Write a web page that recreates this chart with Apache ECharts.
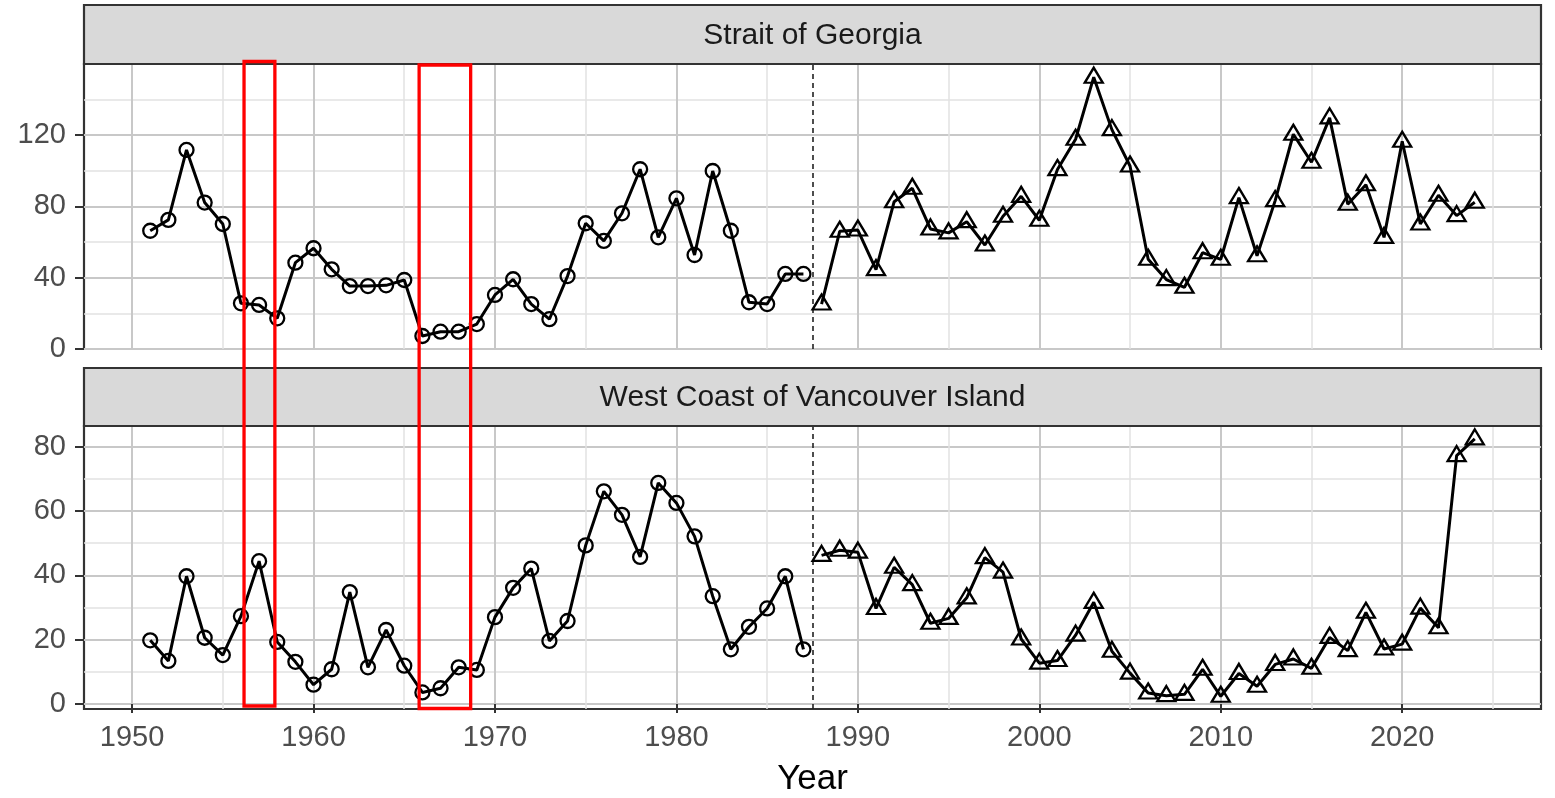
<!DOCTYPE html>
<html><head><meta charset="utf-8">
<script src="https://cdn.jsdelivr.net/npm/echarts@6/dist/echarts.min.js"></script>
<style>html,body{margin:0;padding:0;background:#fff}#c{width:1555px;height:798px}</style>
</head><body><div id="c"></div>
<script>
const yearsEarly = [1951,1952,1953,1954,1955,1956,1957,1958,1959,1960,1961,1962,1963,1964,1965,1966,1967,1968,1969,1970,1971,1972,1973,1974,1975,1976,1977,1978,1979,1980,1981,1982,1983,1984,1985,1986,1987];
const yearsLate = [1988,1989,1990,1991,1992,1993,1994,1995,1996,1997,1998,1999,2000,2001,2002,2003,2004,2005,2006,2007,2008,2009,2010,2011,2012,2013,2014,2015,2016,2017,2018,2019,2020,2021,2022,2023,2024];
const sogEarly = [66.3,72.4,111.6,82.1,70.1,25.6,24.7,17.2,48.4,56.5,44.7,35.3,35.3,35.7,38.7,7.3,9.7,9.7,14.0,30.3,39.1,25.2,16.7,40.9,70.5,60.6,76.1,100.8,62.6,84.5,52.7,99.8,66.3,26.2,25.2,42.1,42.1];
const sogLate = [25.2,66.0,66.7,44.5,82.6,90.1,67.3,65.1,71.4,58.3,74.4,85.6,72.2,100.6,117.6,152.4,123.0,102.6,50.3,38.9,34.6,54.0,50.3,84.9,52.3,83.2,120.4,104.7,129.6,81.2,92.1,62.6,116.5,70.1,86.2,74.8,82.3];
const wcviEarly = [19.8,13.4,39.7,20.6,15.2,27.3,44.4,19.3,13.1,6.0,10.8,34.8,11.4,23.0,11.9,3.6,4.9,11.4,10.6,27.0,36.1,42.1,19.6,25.8,49.3,66.1,58.8,45.7,68.7,62.5,52.1,33.5,17.0,24.0,29.7,39.7,17.0];
const wcviLate = [46.2,47.8,47.2,29.7,42.5,37.1,25.1,26.6,33.0,45.5,41.0,20.2,12.7,13.5,21.4,31.6,16.4,9.6,3.4,2.6,3.0,10.8,2.4,9.5,5.5,12.3,14.0,11.1,20.7,16.6,28.5,17.1,18.6,29.8,23.7,77.2,82.4];
const panelTitles = ['Strait of Georgia', 'West Coast of Vancouver Island'];
const xMajorTicks = [1950,1960,1970,1980,1990,2000,2010,2020];
const xMinorTicks = [1955,1965,1975,1985,1995,2005,2015,2025];
const sogMajorTicks = [0,40,80,120];
const sogMinorTicks = [20,60,100,140];
const wcviMajorTicks = [0,20,40,60,80];
const wcviMinorTicks = [10,30,50,70];
const periodBreak = 1987.5;
const highlightRanges = [[1956.17,1957.87],[1965.82,1968.66]];
const xTitle = 'Year';

const FONT = 'Liberation Sans, Arial, sans-serif';
const L = 84, W = 1457;
const grids = [{top:64, height:285}, {top:426, height:284}];
const strips = [{y:5, h:59}, {y:368, h:58}];
const X_MIN = 1947.35, X_MAX = 2027.65;
const yRanges = [[0,159.8],[-1.55,86.4]];
const boxV = [[61.5,706],[65,708.5]];

const pairs = (xs, ys) => xs.map((x,i)=>[x, ys[i]]);
const MAJOR = {color:'#C8C8C8', width:2};
const MINOR = {color:'#E2E2E2', width:1.5};
const tickStyle = {color:'#333', width:2};
const labelStyle = {color:'#4D4D4D', fontSize:29, fontFamily:FONT};
const plain = v => String(v);

function xAxisPair(gi, withLabels){
  return [
    {type:'value', gridIndex:gi, min:X_MIN, max:X_MAX,
     axisLine:{show:false},
     axisTick:{show:withLabels, length:9, lineStyle:tickStyle, customValues:xMajorTicks},
     axisLabel:{show:withLabels, margin:14, customValues:xMajorTicks, formatter:plain, ...labelStyle},
     splitLine:{show:true, lineStyle:MAJOR},
     name: withLabels ? xTitle : '', nameLocation:'middle', nameGap:53,
     nameTextStyle:{fontSize:35, color:'#000', fontFamily:FONT}},
    {type:'value', gridIndex:gi, min:X_MIN, max:X_MAX,
     axisLine:{show:false}, axisTick:{show:false, customValues:xMinorTicks},
     axisLabel:{show:false, customValues:xMinorTicks},
     splitLine:{show:true, lineStyle:MINOR}}
  ];
}
function yAxisPair(gi, major, minor){
  return [
    {type:'value', gridIndex:gi, min:yRanges[gi][0], max:yRanges[gi][1],
     axisLine:{show:false},
     axisTick:{show:true, length:9, lineStyle:tickStyle, customValues:major},
     axisLabel:{show:true, margin:18, customValues:major, formatter:plain, ...labelStyle},
     splitLine:{show:true, lineStyle:MAJOR}},
    {type:'value', gridIndex:gi, min:yRanges[gi][0], max:yRanges[gi][1],
     axisLine:{show:false}, axisTick:{show:false, customValues:minor},
     axisLabel:{show:false, customValues:minor},
     splitLine:{show:true, lineStyle:MINOR}}
  ];
}

function circleSeries(xi, yi, data){
  return {type:'line', xAxisIndex:xi, yAxisIndex:yi, data, symbol:'circle', symbolSize:14,
    itemStyle:{color:'rgba(0,0,0,0)', borderColor:'#000', borderWidth:2.3},
    lineStyle:{color:'#000', width:3}, emphasis:{disabled:true}, silent:true, z:5,
    markLine:{silent:true, symbol:['none','none'], label:{show:false},
      lineStyle:{type:[5,4], color:'#222', width:1.6}, data:[{xAxis:periodBreak}]}};
}
function triSeries(xi, yi, data){
  return {type:'line', xAxisIndex:xi, yAxisIndex:yi, data, symbol:'triangle', symbolSize:[18,15],
    symbolOffset:[0,-2],
    itemStyle:{color:'rgba(0,0,0,0)', borderColor:'#000', borderWidth:2.3},
    lineStyle:{color:'#000', width:3}, emphasis:{disabled:true}, silent:true, z:5};
}

const chart = echarts.init(document.getElementById('c'), null, {renderer:'canvas'});
chart.setOption({
  animation:false,
  backgroundColor:'#fff',
  textStyle:{fontFamily:FONT},
  grid: grids.map(g=>({left:L, width:W, top:g.top, height:g.height, show:true,
    borderColor:'#333', borderWidth:2.2, backgroundColor:'#fff', containLabel:false})),
  xAxis: [...xAxisPair(0,false), ...xAxisPair(1,true)],
  yAxis: [...yAxisPair(0,sogMajorTicks,sogMinorTicks), ...yAxisPair(1,wcviMajorTicks,wcviMinorTicks)],
  series: [
    circleSeries(0,0,pairs(yearsEarly,sogEarly)),
    triSeries(0,0,pairs(yearsLate,sogLate)),
    circleSeries(2,2,pairs(yearsEarly,wcviEarly)),
    triSeries(2,2,pairs(yearsLate,wcviLate))
  ]
});

const gfx = [];
strips.forEach((s,i)=>{
  gfx.push({type:'rect', shape:{x:L, y:s.y, width:W, height:s.h},
    style:{fill:'#D9D9D9', stroke:'#333', lineWidth:2.2}, z:50});
  gfx.push({type:'text', x:L+W/2, y:s.y+s.h/2+1,
    style:{text:panelTitles[i], fill:'#1A1A1A', font:'30px '+FONT, textAlign:'center', textVerticalAlign:'middle'}, z:51});
});
highlightRanges.forEach(([a,b],i)=>{
  const x0 = chart.convertToPixel({xAxisIndex:2}, a);
  const x1 = chart.convertToPixel({xAxisIndex:2}, b);
  gfx.push({type:'rect', shape:{x:x0, y:boxV[i][0], width:x1-x0, height:boxV[i][1]-boxV[i][0]},
    style:{fill:'none', stroke:'#FF0000', lineWidth:3.3}, z:100});
});
chart.setOption({graphic: gfx});
</script></body></html>
